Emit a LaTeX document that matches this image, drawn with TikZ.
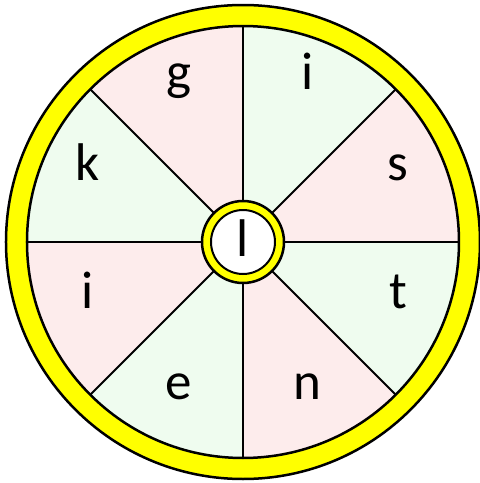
\documentclass[tikz,border=0pt]{standalone}
\usepackage{fontspec}
\newfontfamily\letterfont{Carlito}
\definecolor{rosa}{RGB}{253,236,236}
\definecolor{verde}{RGB}{239,252,239}
\definecolor{amarillo}{RGB}{255,255,0}

\begin{document}
\begin{tikzpicture}[x=1pt,y=1pt,
    letra/.style={font=\letterfont\fontsize{53}{53}\selectfont,
      text height=0.7em, text depth=0.2em, inner sep=0pt}]
    \useasboundingbox (-243,-241) rectangle (237,242);
    % Anillo exterior
    \draw[line width=2.5, fill=amarillo] (0,0) circle (237);
    % Sectores
    \foreach \a/\c in {0/rosa,45/verde,90/rosa,135/verde,180/rosa,225/verde,270/rosa,315/verde}
      \fill[\c] (0,0) -- (\a:216) arc (\a:\a+45:216) -- cycle;
    % Radios
    \foreach \a in {0,45,...,315}
      \draw[line width=1.8] (0,0) -- (\a:216);
    \draw[line width=2.5] (0,0) circle (216);
    % Letras
    \foreach \t [count=\i] in {s,i,g,k,i,e,n,t}
      \node[letra] (letra\i) at ({22.5+45*(\i-1)}:168) {\t};
    % Centro
    \draw[line width=2.5, fill=amarillo] (0,0) circle (41);
    \draw[line width=2, fill=white] (0,0) circle (32);
    \node[letra] (centro) at (0,-12) {l};
\end{tikzpicture}
\end{document}
